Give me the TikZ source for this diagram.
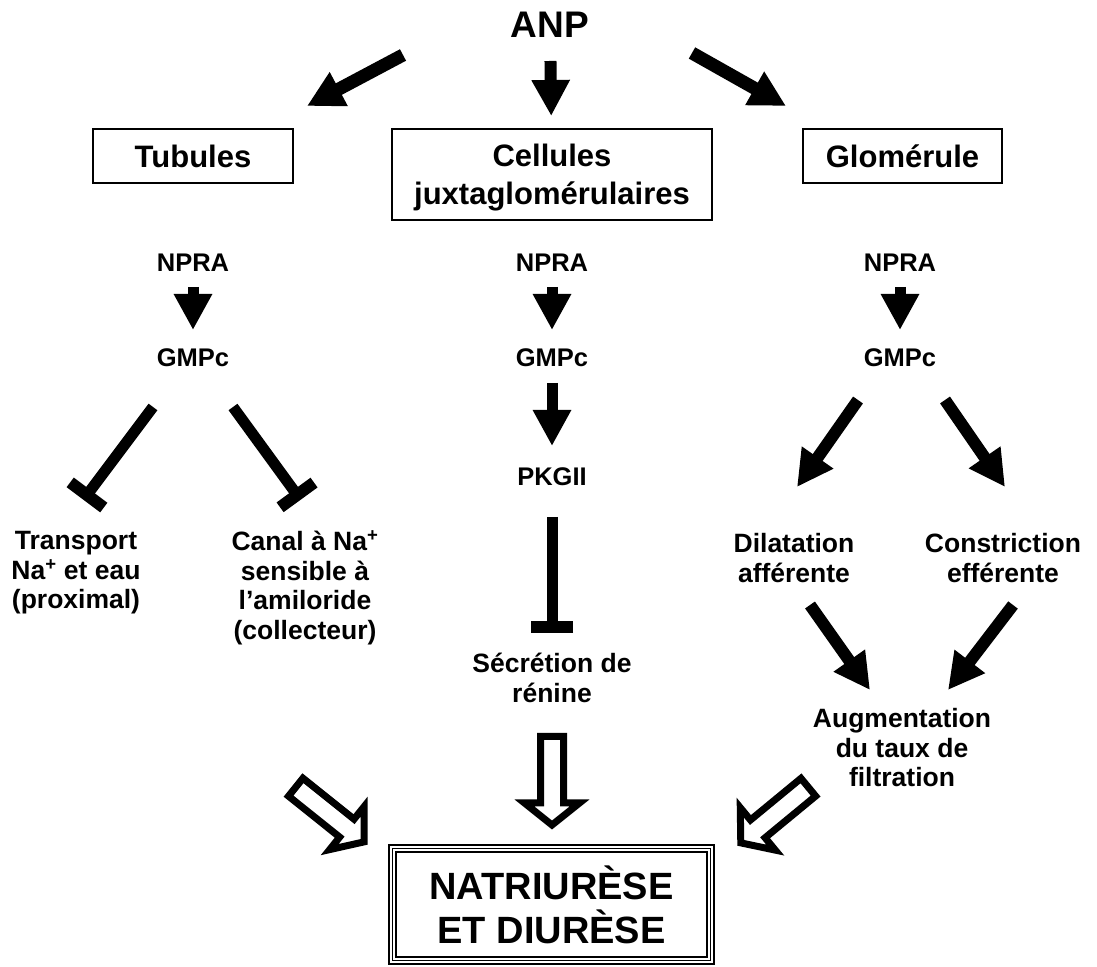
\documentclass[tikz,border=0pt]{standalone}
\usepackage{fontspec}
\setmainfont{Liberation Sans}
\usetikzlibrary{arrows.meta}

\tikzset{
  lbl/.style={font=\bfseries\fontsize{26.5}{29.5}\selectfont, align=center, inner sep=0pt},
  sig/.style={font=\bfseries\fontsize{25.5}{29.5}\selectfont, inner sep=0pt},
  organ/.style={draw, rectangle, line width=2pt, font=\bfseries\fontsize{31}{38}\selectfont, align=center, minimum height=54pt},
  fat/.style={line width=12pt, -{Triangle[length=36pt,width=36pt]}},
  stop/.style={line width=11pt, -{Bar[width=42pt,line width=12pt]}},
  hollow/.style={draw, line width=7pt, fill=white}
}
\newcommand{\hollowarrow}[3]{%
  \begin{scope}[shift={(#1)}, rotate=#2]
    \path[hollow] (3.5,-11.5) -- (#3-27,-11.5) -- (#3-27,-27.5) -- (#3-5,0)
      -- (#3-27,27.5) -- (#3-27,11.5) -- (3.5,11.5) -- cycle;
  \end{scope}}

\begin{document}
\begin{tikzpicture}[x=1pt, y=1pt]
\useasboundingbox (0,0) rectangle (1097,966);

\node[inner sep=0pt, font=\bfseries\fontsize{37}{42}\selectfont] (anp) at (550,941) {ANP};

\node[organ, minimum width=200pt] (tub) at (193,810) {Tubules};
\node[organ, minimum width=320pt, minimum height=91pt] (cel) at (552,791.5) {};
\node[organ, draw=none, inner sep=0pt, minimum height=0pt] (celT) at (552,788) {Cellules\\juxtaglomérulaires};
\node[organ, minimum width=199pt] (glo) at (902.5,810) {Glomérule};

\node[sig] (npraT) at (193,703) {NPRA};
\node[sig] (npraC) at (552,703) {NPRA};
\node[sig] (npraG) at (900,703) {NPRA};
\node[sig] (gmpcT) at (193,608) {GMPc};
\node[sig] (gmpcC) at (552,608) {GMPc};
\node[sig] (gmpcG) at (900,608) {GMPc};
\node[sig] (pkg) at (552,489) {PKGII};

\node[lbl] (transp) at (76,393) {Transport\\Na\textsuperscript{+} et eau\\(proximal)};
\node[lbl] (canal) at (305,378) {Canal à Na\textsuperscript{+}\\sensible à\\l’amiloride\\(collecteur)};
\node[lbl] (secr) at (552,288) {Sécrétion de\\rénine};
\node[lbl] (dil) at (794,408) {Dilatation\\afférente};
\node[lbl] (cons) at (1003,408) {Constriction\\efférente};
\node[lbl] (aug) at (902,218) {Augmentation\\du taux de\\filtration};

\node[draw, line width=2.5pt, minimum width=325pt, minimum height=119pt] (natri) at (551.5,61.5) {};
\draw[line width=1pt] ([shift={(4.5pt,4.5pt)}]natri.south west) rectangle ([shift={(-4.5pt,-4.5pt)}]natri.north east);
\draw[line width=2pt] ([shift={(8pt,8pt)}]natri.south west) rectangle ([shift={(-8pt,-8pt)}]natri.north east);
\node[align=center, inner sep=0pt, font=\bfseries\fontsize{38}{44}\selectfont] (natriT) at (natri) {NATRIURÈSE\\ET DIURÈSE};

\coordinate (anpT) at (403,911);
\coordinate (tubA) at (307,860);
\coordinate (anpG) at (692,913);
\coordinate (gloA) at (786,860);
\draw[fat, line width=13pt] (anpT) -- (tubA);
\draw[fat, shorten <=36pt, shorten >=58.5pt] (anp.center) -- (cel.center);
\draw[fat, line width=13pt] (anpG) -- (gloA);

\draw[fat, line width=11pt, shorten <=24pt, shorten >=28pt] (npraT.center) -- (gmpcT.center);
\draw[fat, line width=11pt, shorten <=24pt, shorten >=28pt] (npraC.center) -- (gmpcC.center);
\draw[fat, line width=11pt, shorten <=24pt, shorten >=28pt] (npraG.center) -- (gmpcG.center);
\draw[fat, line width=11pt, shorten <=25pt, shorten >=31pt] (gmpcC.center) -- (pkg.center);

\coordinate (gmpcT1) at (153,559);
\coordinate (transpB) at (83.4,466.2);
\coordinate (gmpcT2) at (233,559);
\coordinate (canalB) at (300.6,466.2);
\draw[stop] (gmpcT1) -- (transpB);
\draw[stop] (gmpcT2) -- (canalB);
\draw[stop, shorten <=40pt, shorten >=45pt] (pkg.center) -- (secr.center);

\coordinate (gmpcG1) at (858,566);
\coordinate (dilA) at (797,479);
\coordinate (gmpcG2) at (945,566);
\coordinate (consA) at (1005,479);
\draw[fat] (gmpcG1) -- (dilA);
\draw[fat] (gmpcG2) -- (consA);

\coordinate (dilB) at (810,361);
\coordinate (augL) at (870,276);
\coordinate (consB) at (1013,361);
\coordinate (augR) at (948,276);
\draw[fat] (dilB) -- (augL);
\draw[fat] (consB) -- (augR);

\coordinate (canalH) at (293,181);
\coordinate (secrH) at (552,233);
\coordinate (augH) at (811,181);
\hollowarrow{canalH}{-38.7}{96}
\hollowarrow{secrH}{-90}{97}
\hollowarrow{augH}{-140.5}{96}
\end{tikzpicture}
\end{document}
